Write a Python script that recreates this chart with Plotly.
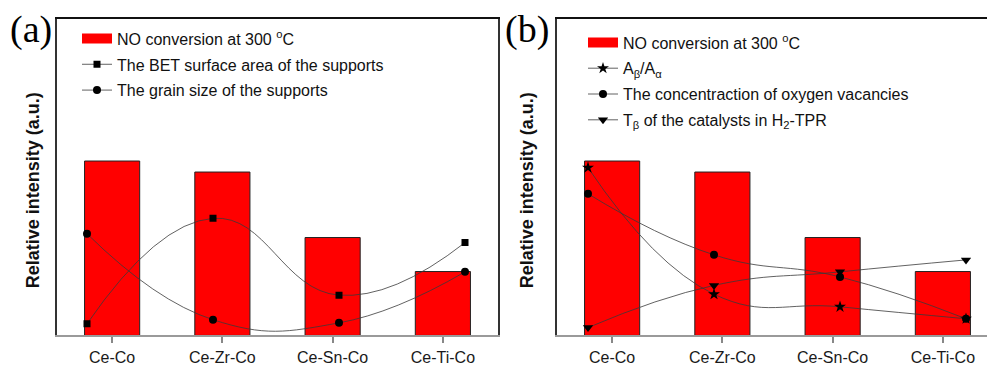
import plotly.graph_objects as go

# ---- data ----
categories = ["Ce-Co", "Ce-Zr-Co", "Ce-Sn-Co", "Ce-Ti-Co"]
no_conversion = [55.4, 51.9, 31.1, 20.3]
bet_area = [3.7, 37.2, 12.8, 29.5]
grain_size = [32.3, 5.0, 4.0, 20.2]
ab_over_aa = [53.3, 13.1, 9.1, 5.3]
oxygen_vac = [45.0, 25.6, 18.6, 5.3]
t_beta = [2.5, 15.9, 20.2, 24.0]

W, H = 987, 366
FONT = "Liberation Sans, Arial, sans-serif"
LINE_COL = "#3a3a3a"

fig = go.Figure()

def px_x(p):
    return p / W

def px_y(p):
    return (H - p) / H

# bars
for i, (xa, leg) in enumerate((("x", "legend"), ("x2", "legend2"))):
    ya = "y" if xa == "x" else "y2"
    fig.add_trace(go.Bar(
        x=categories, y=no_conversion, xaxis=xa, yaxis=ya,
        marker=dict(color="#ff0000", line=dict(color="#222222", width=1)),
        width=0.5, showlegend=False, hoverinfo="skip"))
    fig.add_trace(go.Scatter(
        x=[None], y=[None], xaxis=xa, yaxis=ya,
        mode="lines", line=dict(color="#ff0000", width=14),
        name="NO conversion at 300 <sup>o</sup>C", legend=leg,
        legendgroup=f"bar{i}", showlegend=True))

def line_trace(vals, name, symbol, size, xa, ya, leg, grp):
    return go.Scatter(
        x=categories, y=vals, xaxis=xa, yaxis=ya, name=name, legend=leg,
        legendgroup=grp,
        mode="lines+markers",
        line=dict(color=LINE_COL, width=0.8, shape="spline", smoothing=1.3),
        marker=dict(symbol=symbol, size=size, color="black"),
        hoverinfo="skip")

fig.add_trace(line_trace(bet_area, "The BET surface area of the supports",
                         "square", 7, "x3", "y", "legend", "g1"))
fig.add_trace(line_trace(grain_size, "The grain size of the supports",
                         "circle", 8, "x3", "y", "legend", "g2"))
fig.add_trace(line_trace(ab_over_aa, "A<sub>β</sub>/A<sub>α</sub>",
                         "star", 9, "x4", "y2", "legend2", "g3"))
fig.add_trace(line_trace(oxygen_vac, "The concentraction of oxygen vacancies",
                         "circle", 8, "x4", "y2", "legend2", "g4"))
fig.add_trace(line_trace(t_beta, "T<sub>β</sub> of the catalysts in H<sub>2</sub>-TPR",
                         "triangle-down", 9, "x4", "y2", "legend2", "g5"))

# axes geometry (pixels)
a_left, a_right = 57, 498
b_left, b_right = 557, 987
top, bottom = 19, 342
unit_px = 3.21
y_top = (bottom - top) / unit_px
cat_w = 110.25
pt_w = 126.0

xaxis_common = dict(
    type="category", showgrid=False, zeroline=False,
    showline=True, linecolor="#9a9a9a", linewidth=2,
    ticks="outside", ticklen=6, tickwidth=2, tickcolor="#888888",
    tickfont=dict(family=FONT, size=16, color="#1a1a1a"),
)
over_common = dict(
    type="category", showgrid=False, zeroline=False, showticklabels=False,
    ticks="", side="top", showline=True, linecolor="#111111", linewidth=1.5,
)
yaxis_common = dict(
    range=[0, y_top], showgrid=False, zeroline=False, showticklabels=False,
    ticks="", showline=True, linecolor="#333333", linewidth=1.5,
)

legend_common = dict(
    xanchor="left", yanchor="top", bgcolor="rgba(0,0,0,0)", borderwidth=0,
    font=dict(family=FONT, size=16, color="#111111"), tracegroupgap=2,
)

fig.update_layout(
    width=W, height=H, margin=dict(l=0, r=0, t=0, b=0),
    paper_bgcolor="white", plot_bgcolor="white",
    xaxis=dict(domain=[px_x(a_left), px_x(a_right)], anchor="y",
               range=[-0.5, 3.5], **xaxis_common),
    xaxis2=dict(domain=[px_x(b_left), 1.0], anchor="y2",
                range=[-0.5, -0.5 + (b_right - b_left) / cat_w], **xaxis_common),
    xaxis3=dict(overlaying="x", anchor="y",
                range=[-30 / pt_w, -30 / pt_w + (a_right - a_left) / pt_w], **over_common),
    xaxis4=dict(overlaying="x2", anchor="y2",
                range=[-31 / pt_w, -31 / pt_w + (b_right - b_left) / pt_w], **over_common),
    yaxis=dict(domain=[px_y(bottom), px_y(top)], anchor="x", mirror=True, **yaxis_common),
    yaxis2=dict(domain=[px_y(bottom), px_y(top)], anchor="x2", **yaxis_common),
    legend=dict(x=px_x(77), y=px_y(22), **legend_common),
    legend2=dict(x=px_x(583), y=px_y(26), **legend_common),
    showlegend=True,
)

annos = [
    dict(text="(a)", x=px_x(31), y=px_y(30)),
    dict(text="(b)", x=px_x(527), y=px_y(30)),
]
for a in annos:
    fig.add_annotation(xref="paper", yref="paper", showarrow=False,
                       xanchor="center", yanchor="middle",
                       font=dict(family="Liberation Serif, Times New Roman, serif",
                                 size=38, color="black"), **a)

for xc in (33, 527):
    fig.add_annotation(xref="paper", yref="paper", showarrow=False,
                       x=px_x(xc), y=px_y(194), textangle=-90,
                       xanchor="center", yanchor="middle",
                       text="<b>Relative intensity (a.u.)</b>",
                       font=dict(family=FONT, size=18, color="#111111"))

fig.write_html("out.html")
